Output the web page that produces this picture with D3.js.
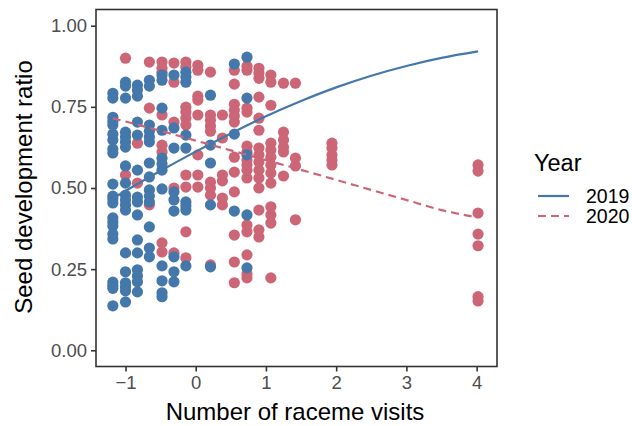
<!DOCTYPE html>
<head>
  <meta charset="utf-8">
  <script src="https://d3js.org/d3.v7.min.js"></script>
  <style>
    body { margin:0; background:#fff; }
    svg { display:block; font-family: "Liberation Sans", Arial, Helvetica, sans-serif; }
  </style>
</head>

<body>
  <script>
    var width = 632;
    var height = 426;

    // scaled number of raceme visits (one entry per column of points)
    var visits = [-1.18, -1.00, -0.83, -0.66, -0.48, -0.31, -0.14, 0.03, 0.21,
                  0.38, 0.55, 0.73, 0.90, 1.07, 1.25, 1.42, 1.94, 4.02];

    // seed development ratio per column, 2019
    var ratio2019 = [
      [0.792, 0.777, 0.718, 0.706, 0.694, 0.666, 0.648, 0.620, 0.608, 0.512, 0.475, 0.466, 0.454, 0.408, 0.395, 0.383, 0.358, 0.343, 0.210, 0.200, 0.191, 0.137],
      [0.826, 0.814, 0.777, 0.672, 0.657, 0.642, 0.626, 0.568, 0.515, 0.478, 0.463, 0.448, 0.432, 0.300, 0.242, 0.208, 0.195, 0.183, 0.149],
      [0.817, 0.802, 0.783, 0.703, 0.663, 0.555, 0.472, 0.457, 0.417, 0.340, 0.300, 0.248, 0.229, 0.211, 0.180],
      [0.832, 0.814, 0.694, 0.675, 0.657, 0.642, 0.577, 0.534, 0.494, 0.475, 0.457, 0.380, 0.315, 0.288],
      [0.848, 0.832, 0.746, 0.678, 0.592, 0.574, 0.555, 0.497, 0.260, 0.214, 0.177, 0.165],
      [0.848, 0.685, 0.623, 0.488, 0.463, 0.429, 0.288, 0.242, 0.211],
      [0.857, 0.842, 0.826, 0.663, 0.623, 0.457, 0.445, 0.432, 0.260],
      [],
      [0.786, 0.632, 0.577, 0.448, 0.257],
      [],
      [0.882, 0.666, 0.429],
      [0.903, 0.777, 0.602, 0.417, 0.254],
      [], [], [], [], [], []
    ];

    // seed development ratio per column, 2020
    var ratio2020 = [
      [],
      [0.900, 0.540],
      [0.638, 0.515],
      [0.888, 0.746, 0.448],
      [0.888, 0.869, 0.857, 0.725, 0.632, 0.611, 0.331, 0.303],
      [0.885, 0.826, 0.703, 0.500, 0.300],
      [0.888, 0.872, 0.749, 0.734, 0.715, 0.694, 0.540, 0.503, 0.365, 0.285],
      [0.878, 0.863, 0.783, 0.771, 0.725, 0.602, 0.540, 0.503],
      [0.857, 0.725, 0.709, 0.691, 0.675, 0.518, 0.500, 0.478, 0.263],
      [0.725, 0.654, 0.540, 0.522, 0.469, 0.448],
      [0.863, 0.820, 0.758, 0.740, 0.722, 0.703, 0.595, 0.549, 0.488, 0.355, 0.272, 0.208],
      [0.875, 0.863, 0.746, 0.734, 0.629, 0.611, 0.586, 0.571, 0.555, 0.531, 0.386, 0.365, 0.294, 0.235, 0.223],
      [0.869, 0.854, 0.838, 0.780, 0.715, 0.678, 0.623, 0.602, 0.580, 0.555, 0.531, 0.500, 0.432, 0.371, 0.349],
      [0.848, 0.826, 0.755, 0.638, 0.617, 0.595, 0.571, 0.546, 0.515, 0.442, 0.417, 0.392, 0.223],
      [0.823, 0.672, 0.648, 0.626, 0.611, 0.537],
      [0.823, 0.592, 0.568, 0.402],
      [0.638, 0.623, 0.602, 0.586, 0.571],
      [0.571, 0.552, 0.423, 0.358, 0.322, 0.165, 0.152]
    ];

    // fitted curves
    var fitX = [-1.18, -0.5, 0, 0.5, 1, 1.5, 2, 2.5, 3, 3.5, 4.02];
    var fit2019 = [0.468, 0.553, 0.612, 0.668, 0.721, 0.768, 0.810, 0.846, 0.876, 0.901, 0.921];
    var fit2020 = [0.715, 0.676, 0.646, 0.616, 0.586, 0.556, 0.525, 0.494, 0.463, 0.432, 0.409];

    var xTicks = [-1, 0, 1, 2, 3, 4];
    var yTicks = [0, 0.25, 0.5, 0.75, 1];
    var years = ["2019", "2020"];
    var colors = {"2019": "#4477AA", "2020": "#CC6677"};

    // panel edges
    var pLeft = 96, pRight = 497, pTop = 9.5, pBottom = 366.5;

    var svg = d3.select("body").append("svg")
      .attr("width", width)
      .attr("height", height);

    var x = d3.scaleLinear().domain([-1.42, 4.29]).range([pLeft, pRight]);
    var y = d3.scaleLinear().domain([-0.05, 1.05]).range([pBottom, pTop]);

    function flatten(cols) {
      var out = [];
      cols.forEach(function(vals, i) {
        vals.forEach(function(v) { out.push({x: visits[i], y: v}); });
      });
      return out;
    }

    // points, 2020 drawn first so 2019 sits on top
    svg.append("g").selectAll("circle")
      .data(flatten(ratio2020))
      .enter().append("circle")
      .attr("cx", function(d) { return x(d.x); })
      .attr("cy", function(d) { return y(d.y); })
      .attr("r", 5.6)
      .attr("fill", colors["2020"]);

    svg.append("g").selectAll("circle")
      .data(flatten(ratio2019))
      .enter().append("circle")
      .attr("cx", function(d) { return x(d.x); })
      .attr("cy", function(d) { return y(d.y); })
      .attr("r", 5.6)
      .attr("fill", colors["2019"]);

    var line = d3.line()
      .x(function(d) { return x(d[0]); })
      .y(function(d) { return y(d[1]); })
      .curve(d3.curveMonotoneX);

    svg.append("path")
      .attr("d", line(d3.zip(fitX, fit2019)))
      .attr("fill", "none")
      .attr("stroke", colors["2019"])
      .attr("stroke-width", 2.2);

    svg.append("path")
      .attr("d", line(d3.zip(fitX, fit2020)))
      .attr("fill", "none")
      .attr("stroke", colors["2020"])
      .attr("stroke-width", 2.2)
      .attr("stroke-dasharray", "8,5");

    // panel border
    svg.append("rect")
      .attr("x", pLeft).attr("y", pTop)
      .attr("width", pRight - pLeft).attr("height", pBottom - pTop)
      .attr("fill", "none")
      .attr("stroke", "#333")
      .attr("stroke-width", 1.6);

    var xAxis = svg.append("g")
      .attr("transform", "translate(0," + pBottom + ")")
      .call(d3.axisBottom(x).tickValues(xTicks).tickSize(5).tickPadding(4)
        .tickFormat(function(d) { return d < 0 ? "\u2212" + Math.abs(d) : d; }));

    var yAxis = svg.append("g")
      .attr("transform", "translate(" + pLeft + ",0)")
      .call(d3.axisLeft(y).tickValues(yTicks).tickSize(5).tickPadding(4)
        .tickFormat(d3.format(".2f")));

    [xAxis, yAxis].forEach(function(a) {
      a.select(".domain").remove();
      a.selectAll(".tick line").attr("stroke", "#333").attr("stroke-width", 1.6);
      a.selectAll(".tick text").attr("fill", "#4d4d4d")
        .style("font-size", "18.5px").style("font-family", "inherit");
    });

    svg.append("text")
      .attr("x", 295)
      .attr("y", 420)
      .attr("text-anchor", "middle")
      .style("font-size", "24px")
      .text("Number of raceme visits");

    svg.append("text")
      .attr("transform", "translate(32,187)rotate(-90)")
      .attr("text-anchor", "middle")
      .style("font-size", "24px")
      .text("Seed development ratio");

    // legend
    var legend = svg.append("g");
    legend.append("text")
      .attr("x", 534).attr("y", 171)
      .style("font-size", "23.5px")
      .text("Year");

    years.forEach(function(yr, i) {
      var ly = 196 + i * 20;
      legend.append("line")
        .attr("x1", 538).attr("x2", 569)
        .attr("y1", ly).attr("y2", ly)
        .attr("stroke", colors[yr])
        .attr("stroke-width", 2.2)
        .attr("stroke-dasharray", i == 1 ? "8,5" : null);
      legend.append("text")
        .attr("x", 586).attr("y", ly + 7)
        .style("font-size", "19.5px")
        .text(yr);
    });
  </script>
</body>
